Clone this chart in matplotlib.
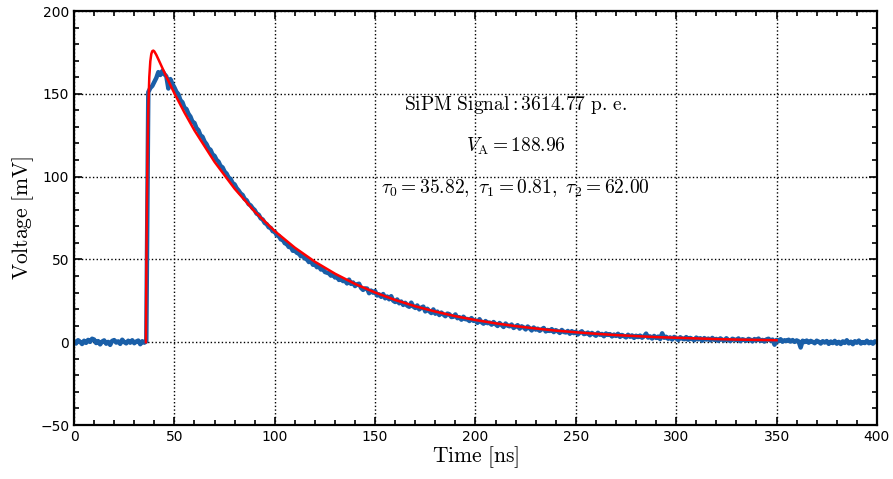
import numpy as np
import matplotlib
matplotlib.use('Agg')
import matplotlib.pyplot as plt
from matplotlib.ticker import MultipleLocator

# measured SiPM waveform, one sample per ns starting at t = 0
signal_mv = [
    0.6, -0.8, 1.2, 0.3, -1.1, 0.9, -0.4, 1.4, 0.2, 2.1,
    1.6, -0.5, 0.7, -1.3, 0.4, 1.1, -0.9, 0.2, -1.6, 0.8,
    1.3, -0.2, 0.5, -1.0, 1.5, 0.1, -0.7, 0.9, -0.3, 1.2,
    -0.6, 0.4, 1.0, -1.2, 0.6, -0.3, 0.5, 151.0, 153.5, 154.8,
    157.2, 159.6, 163.1, 161.4, 163.8, 161.9, 160.5, 153.2, 158.9, 156.0,
    153.8, 151.2, 149.7, 146.1, 144.9, 141.6, 140.8, 137.9, 136.2, 133.1,
    132.4, 129.3, 128.0, 124.9, 124.1, 121.2, 119.6, 117.0, 116.2, 113.4,
    112.5, 110.1, 109.0, 106.3, 105.6, 103.0, 101.8, 99.4, 98.6, 96.1,
    95.3, 93.0, 91.6, 89.8, 88.9, 86.5, 85.7, 83.4, 82.6, 80.9,
    79.8, 77.6, 77.0, 74.8, 74.1, 72.0, 71.3, 69.4, 69.0, 67.0,
    66.8, 64.6, 64.2, 62.1, 61.9, 59.8, 59.3, 57.5, 57.6, 55.2,
    55.4, 54.0, 53.6, 51.9, 52.3, 50.6, 50.1, 48.4, 49.1, 46.8,
    47.2, 45.3, 45.8, 43.9, 44.3, 42.4, 42.0, 41.6, 40.2, 41.0,
    39.1, 39.5, 37.6, 38.4, 36.9, 37.2, 35.5, 37.8, 35.2, 36.1,
    33.9, 35.0, 35.3, 32.8, 31.6, 32.5, 32.4, 29.6, 31.2, 29.9,
    30.9, 28.2, 28.9, 27.4, 29.1, 26.5, 27.6, 25.9, 27.8, 25.1,
    24.3, 25.8, 23.5, 24.6, 22.5, 23.8, 22.1, 21.4, 23.9, 21.6,
    20.7, 22.2, 19.8, 20.9, 21.5, 18.6, 20.2, 18.7, 17.6, 19.8,
    17.2, 18.5, 16.4, 17.9, 16.8, 15.7, 17.3, 16.9, 15.2, 15.4,
    16.8, 14.5, 15.1, 13.6, 15.4, 13.9, 14.0, 12.8, 14.6, 12.9,
    13.1, 11.7, 13.9, 12.1, 11.2, 12.8, 11.5, 11.9, 10.6, 12.2,
    10.9, 9.8, 11.6, 10.4, 9.2, 11.3, 10.0, 9.6, 10.7, 8.6,
    9.4, 10.3, 8.2, 9.6, 8.9, 7.7, 9.5, 8.4, 7.1, 8.9,
    7.6, 8.2, 6.9, 7.8, 8.6, 6.5, 7.4, 6.8, 7.9, 6.1,
    7.3, 6.6, 5.6, 7.4, 6.2, 5.9, 6.8, 5.1, 6.7, 5.5,
    6.3, 4.7, 5.9, 6.6, 4.9, 5.2, 5.8, 4.2, 5.6, 4.8,
    3.9, 5.7, 4.5, 5.0, 3.6, 5.3, 4.4, 4.9, 3.5, 4.6,
    3.8, 5.1, 3.2, 4.4, 3.7, 2.9, 4.5, 3.3, 4.1, 2.6,
    3.9, 3.1, 4.0, 2.7, 3.6, 5.2, 2.8, 3.5, 2.2, 3.8,
    2.6, 3.4, 1.9, 5.4, 2.7, 3.3, 2.1, 2.9, 1.6, 3.2,
    2.4, 1.3, 3.0, 2.2, 1.8, 3.1, 1.5, 2.6, 1.9, 1.2,
    2.8, 1.7, 2.4, 0.9, 2.5, 1.6, 2.2, 1.1, 2.6, 1.4,
    2.0, 0.8, 2.3, 1.5, 1.0, 2.4, 1.3, 0.7, 2.1, 1.6,
    1.2, 2.3, 0.6, 1.8, 1.4, 0.9, 2.0, 1.5, 0.5, 1.9,
    1.1, 2.2, 0.8, 1.4, 0.4, 1.7, 2.1, 0.9, 1.6, -1.5,
    1.4, 0.6, 1.8, 0.3, 1.2, 0.7, 1.5, 0.4, 1.3, 0.2,
    1.1, 0.5, -3.2, 0.9, 0.1, 1.0, -0.3, 0.8, 0.2, -0.6,
    0.9, 0.3, -0.8, 0.6, -0.2, 0.7, -1.0, 0.4, -0.5, 0.8,
    -0.9, 0.2, -1.1, 0.5, -0.4, 1.2, -0.7, 0.3, -1.2, 0.6,
    -0.3, 1.0, -0.8, 0.1, -0.5, 0.9, -0.6, 0.2, -0.9, 0.5,
    -0.1,
]
signal_t = np.arange(len(signal_mv))

# fitted pulse shape
fit_t = [35.82, 36.0, 36.3, 36.6, 37.0, 37.5, 38.0, 38.5, 39.0, 39.5,
         40, 41, 42, 44, 45, 46, 50, 55, 60, 70, 80, 90, 100, 110, 120,
         130, 140, 150, 160, 170, 180, 190, 200, 210, 220, 230, 240, 250,
         260, 270, 280, 290, 300, 310, 320, 330, 340, 350]
fit_mv = [0, 37.0, 83.0, 114.4, 141.4, 160.2, 169.6, 174.1, 175.8, 176.1,
          175.6, 173.5, 170.9, 165.6, 163.0, 160.3, 150.3, 138.7, 127.9,
          108.9, 92.7, 78.9, 67.1, 57.1, 48.6, 41.4, 35.2, 30.0, 25.5,
          21.7, 18.5, 15.7, 13.4, 11.4, 9.7, 8.3, 7.0, 6.0, 5.1, 4.3, 3.7,
          3.1, 2.7, 2.3, 1.9, 1.6, 1.4, 1.2]

plt.rcParams['mathtext.fontset'] = 'cm'

fig = plt.figure(figsize=(8.93, 4.79), dpi=100)
ax = fig.add_axes([0.0829, 0.1127, 0.8991, 0.8643])

ax.plot(signal_t, signal_mv, color='#1a5fa8', lw=3.2, zorder=2)
ax.plot(fit_t, fit_mv, color='#ff0000', lw=1.8, zorder=3)

ax.text(220, 143.5, r'$\mathrm{SiPM\ Signal} : 3614.77\ \mathrm{p.\,e.}$',
        ha='center', va='center', fontsize=14)
ax.text(220, 118.5, r'$V_\mathrm{A} = 188.96$',
        ha='center', va='center', fontsize=14)
ax.text(220, 93, r'$\tau_0 = 35.82,\ \tau_1 = 0.81,\ \tau_2 = 62.00$',
        ha='center', va='center', fontsize=14)

ax.set_xlim(0, 400)
ax.set_ylim(-50, 200)
ax.xaxis.set_major_locator(MultipleLocator(50))
ax.xaxis.set_minor_locator(MultipleLocator(10))
ax.yaxis.set_major_locator(MultipleLocator(50))
ax.yaxis.set_minor_locator(MultipleLocator(10))
ax.tick_params(which='both', direction='in', top=True, right=True,
               labelsize=10, width=1.2)
ax.tick_params(which='major', length=6)
ax.tick_params(which='minor', length=3.5)
for s in ax.spines.values():
    s.set_linewidth(1.6)
ax.grid(True, which='major', color='black', linestyle=':', lw=1.0)

ax.set_xlabel(r'$\mathrm{Time\ [ns]}$', fontsize=15.5, labelpad=0)
ax.set_ylabel(r'$\mathrm{Voltage\ [mV]}$', fontsize=15.5, labelpad=3)

fig.savefig('out.png', dpi=100)
